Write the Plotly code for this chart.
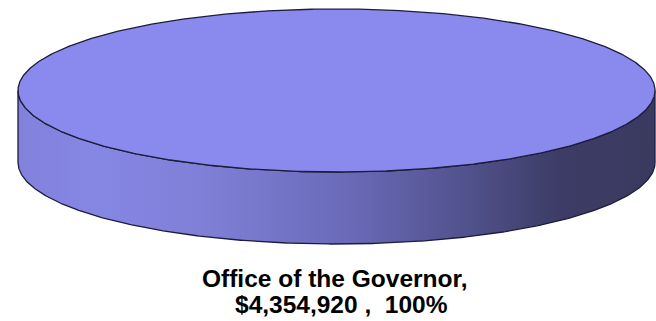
import numpy as np
import plotly.graph_objects as go

labels = ["Office of the Governor"]
values = [4354920]

W, H = 656, 321
cx, cy, rx, ry, depth = 336.5, 90.5, 318.5, 81.5, 72

total = sum(values)
shares = [v / total for v in values]

fig = go.Figure()
start = 0.0
for lab, val, sh in zip(labels, values, shares):
    t = np.linspace(start, start + 2 * np.pi * sh, 721)
    # side (front visible part)
    tf = t[np.sin(t) >= 0] if sh < 1 else np.linspace(0, np.pi, 361)
    xs_top = cx + rx * np.cos(tf)
    ys_top = cy + ry * np.sin(tf)
    xs = np.concatenate([xs_top, xs_top[::-1], xs_top[:1]])
    ys = np.concatenate([ys_top, ys_top[::-1] + depth, ys_top[:1]])
    fig.add_trace(go.Scatter(
        x=xs, y=ys, mode="lines", fill="toself",
        fillgradient=dict(type="horizontal", colorscale=[
            [0.0, "#8282dc"], [0.12, "#8686e4"], [0.28, "#8080d8"],
            [0.5, "#6c6cbc"], [0.7, "#52528e"], [0.85, "#3c3c66"],
            [1.0, "#3a3a60"]]),
        line=dict(color="#1c1c3c", width=1.3),
        hoverinfo="skip", showlegend=False))
    # top face
    xt = cx + rx * np.cos(t)
    yt = cy + ry * np.sin(t)
    fig.add_trace(go.Scatter(
        x=xt, y=yt, mode="lines", fill="toself",
        fillcolor="#8a8aee",
        line=dict(color="#1c1c3c", width=1.3),
        hoverinfo="skip", showlegend=False, name=lab))
    font = dict(family="Liberation Sans", size=24.5, color="#000000", weight="bold")
    fig.add_annotation(x=cx - 2.5, y=278.5, xref="x", yref="y",
                       text=f"{lab},", showarrow=False, font=font)
    fig.add_annotation(x=cx + 5, y=304, xref="x", yref="y",
                       text=f"${val:,} ,  {sh*100:.0f}%", showarrow=False, font=font)
    start += 2 * np.pi * sh

fig.update_layout(
    width=W, height=H, margin=dict(l=0, r=0, t=0, b=0),
    paper_bgcolor="white", plot_bgcolor="white",
    xaxis=dict(range=[0, W], visible=False, fixedrange=True),
    yaxis=dict(range=[H, 0], visible=False, fixedrange=True),
)
fig.write_html("out.html")
